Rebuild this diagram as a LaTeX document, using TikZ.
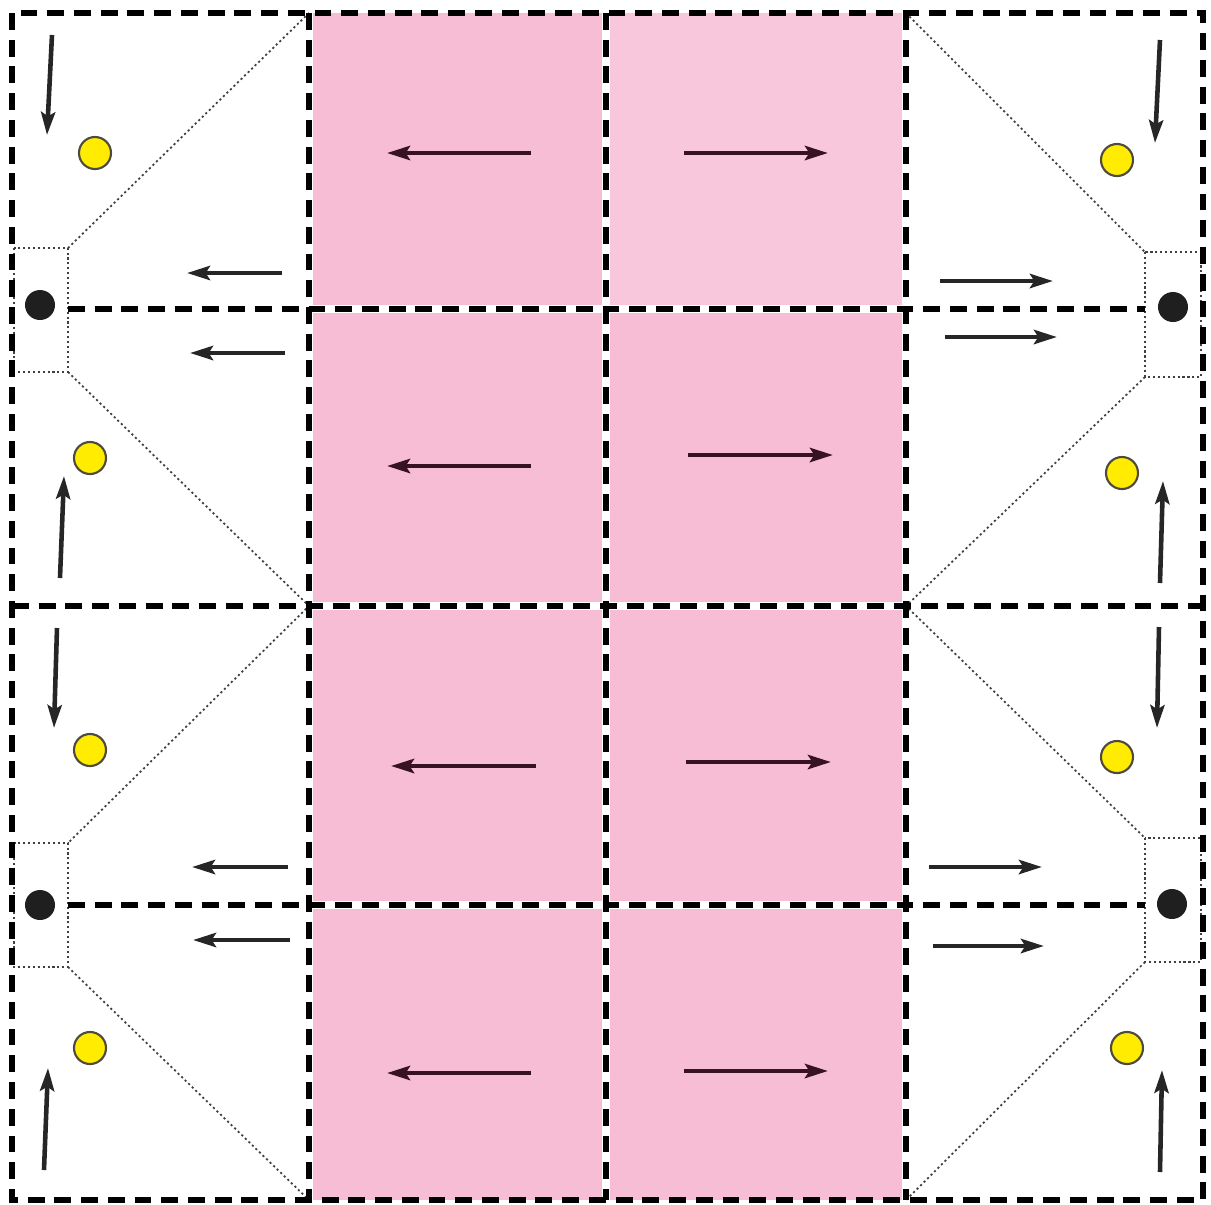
\documentclass[tikz,border=0pt]{standalone}
\usepackage{xcolor}
\usepackage{tikz}
\usetikzlibrary{arrows.meta,positioning,calc}

\definecolor{pinkfill}{RGB}{246,189,213}
\definecolor{pinklight}{RGB}{248,199,220}
\definecolor{dotyellow}{RGB}{255,236,0}
\definecolor{darkmaroon}{RGB}{55,18,34}

\begin{document}
\begin{tikzpicture}[x=0.01cm, y=-0.01cm,
    gridline/.style={line width=1.45pt, dash pattern=on 4.8pt off 2.8pt},
    halo/.style={draw=white, line width=2.3pt},
    guide/.style={line width=0.5pt, dash pattern=on 0.6pt off 0.8pt, black!75},
    flow/.style={-{Stealth[length=6.5pt, width=4pt, inset=1.2pt]}, line width=1.3pt, black!85},
    pinkflow/.style={flow, darkmaroon},
    yellowdot/.style={circle, fill=dotyellow, draw=black!80!yellow, line width=0.6pt, minimum size=0.32cm, inner sep=0pt},
    blackdot/.style={circle, fill=black!88, minimum size=0.30cm, inner sep=0pt}
]
  \useasboundingbox (0,0) rectangle (1211,1205);

  % Pink middle band
  \fill[pinkfill] (309,13) rectangle (906,1200);
  \fill[pinklight] (606,13) rectangle (906,309);

  % White edging of the lines over the pink
  \foreach \xv in {309,606,906}
    \draw[halo] (\xv,13) -- (\xv,1200);
  \foreach \yv in {309,606,905}
    \draw[halo] (309,\yv) -- (906,\yv);

  % Dotted boxes round the black dots
  \draw[guide] (14,248) rectangle (68,372);
  \draw[guide] (14,843) rectangle (68,967);
  \draw[guide] (1145,252) rectangle (1201,377);
  \draw[guide] (1145,838) rectangle (1201,962);

  % Dotted diagonals
  \draw[guide] (68,248) -- (309,13);
  \draw[guide] (68,372) -- (309,606) -- (68,843);
  \draw[guide] (68,967) -- (309,1200);
  \draw[guide] (906,13) -- (1145,252);
  \draw[guide] (1145,377) -- (906,606) -- (1145,838);
  \draw[guide] (1145,962) -- (906,1200);

  % Dashed grid
  \draw[gridline] (12,13) rectangle (1203,1200);
  \foreach \xv in {309,606,906}
    \draw[gridline] (\xv,13) -- (\xv,1200);
  \draw[gridline] (12,606) -- (1203,606);
  \draw[gridline] (68,309) -- (1145,309);
  \draw[gridline] (68,905) -- (1145,905);

  % Black dots
  \node[blackdot] (hole_lt) at (40,305) {};
  \node[blackdot] (hole_lb) at (40,905) {};
  \node[blackdot] (hole_rt) at (1173,307) {};
  \node[blackdot] (hole_rb) at (1172,904) {};

  % Yellow dots
  \node[yellowdot] (sun_l1) at (95,153) {};
  \node[yellowdot] (sun_l2) at (90,458) {};
  \node[yellowdot] (sun_l3) at (90,750) {};
  \node[yellowdot] (sun_l4) at (90,1048) {};
  \node[yellowdot] (sun_r1) at (1117,160) {};
  \node[yellowdot] (sun_r2) at (1122,473) {};
  \node[yellowdot] (sun_r3) at (1117,757) {};
  \node[yellowdot] (sun_r4) at (1127,1048) {};

  % Vertical arrows at the sides
  \foreach \xa/\ya/\xb/\yb in {52/35/47/135, 60/578/64/476, 57/628/54/728, 44/1170/48/1068,
                              1160/40/1155/143, 1160/583/1163/481, 1159/627/1157/728, 1160/1172/1162/1070}
    \draw[flow] (\xa,\ya) -- (\xb,\yb);

  % Horizontal arrows in the white columns
  \foreach \xa/\ya/\xb/\yb in {282/273/187/273, 285/353/190/353, 288/867/192/867, 290/940/193/940,
                              940/281/1053/281, 945/337/1057/337, 929/867/1042/867, 933/946/1044/946}
    \draw[flow] (\xa,\ya) -- (\xb,\yb);

  % Arrows in the pink band
  \foreach \xa/\ya/\xb/\yb in {531/153/387/153, 531/466/387/466, 536/766/391/766, 531/1073/387/1073,
                              684/153/828/153, 688/455/833/455, 686/762/831/762, 684/1071/828/1071}
    \draw[pinkflow] (\xa,\ya) -- (\xb,\yb);

\end{tikzpicture}
\end{document}
